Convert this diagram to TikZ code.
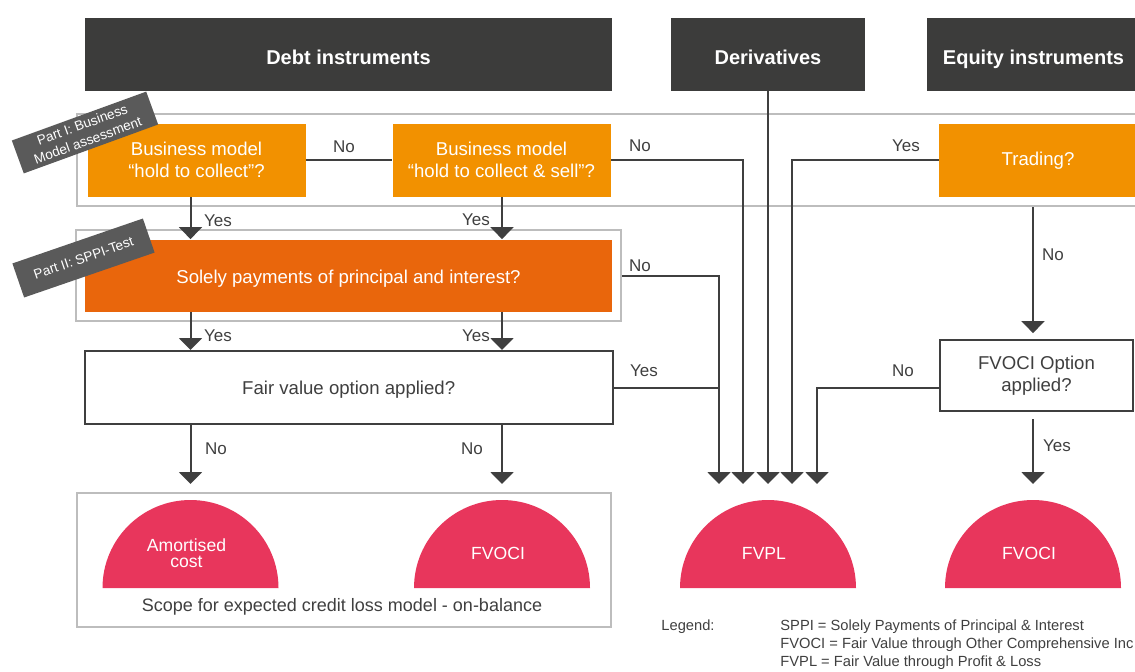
\documentclass[tikz,border=0pt]{standalone}
\usepackage{fontspec}
\setmainfont{Liberation Sans}
\usetikzlibrary{arrows.meta,fit}

\definecolor{hdrgray}{HTML}{3C3C3B}
\definecolor{bmorange}{HTML}{F29100}
\definecolor{sppiorange}{HTML}{E9660C}
\definecolor{respink}{HTML}{E8365C}
\definecolor{framegray}{HTML}{BDBDBD}
\definecolor{taggray}{HTML}{5A5A5A}
\definecolor{linegray}{HTML}{3F3F3F}

\tikzset{
    header/.style={fill=hdrgray, text=white, inner sep=0pt, minimum height=36.5pt,
        text height=9.7pt, text depth=0pt, font=\fontsize{10}{12}\selectfont\bfseries},
    bmbox/.style={fill=bmorange, text=white, inner sep=0pt, minimum height=36.5pt,
        align=center, font=\fontsize{9.3}{11}\selectfont},
    sppibox/.style={bmbox, fill=sppiorange},
    askbox/.style={draw=linegray, line width=1pt, fill=white, text=linegray, inner sep=0pt,
        align=center, font=\fontsize{9.3}{11}\selectfont},
    frame/.style={draw=framegray, line width=1pt, inner sep=0pt},
    tag/.style={fill=taggray, text=white, inner sep=0pt, align=center,
        font=\fontsize{6.8}{8.3}\selectfont},
    restxt/.style={text=white, inner sep=0pt, align=center,
        font=\fontsize{8.8}{8}\selectfont},
    lbl/.style={text=linegray, inner sep=0pt, font=\fontsize{8.5}{10}\selectfont},
    legtxt/.style={text=linegray, inner sep=0pt, font=\fontsize{7.35}{9}\selectfont},
    ln/.style={draw=linegray, line width=1pt},
    arr/.style={ln, -{Triangle[width=11.5pt, length=6pt]}},
}

\begin{document}
\begin{tikzpicture}[x=0.5pt, y=-0.5pt]

    % the page
    \useasboundingbox (0,0) rectangle (1135,671);
    \clip (0,0) rectangle (1135,671);

    % columns and arrow ends
    \coordinate (colA) at (190.5,0);
    \coordinate (colB) at (502,0);
    \coordinate (colE) at (1033,0);
    \coordinate (tiprow) at (0,484);
    \foreach \i/\x in {1/719,2/743,3/768,4/792,5/817} {
        \coordinate (tip\i) at (\x,484);
    }

    % headers
    \node[header, minimum width=263.5pt] (debt) at (348.5,54.5) {Debt instruments};
    \node[header, minimum width=97pt] (deriv) at (768,54.5) {Derivatives};
    \node[header, minimum width=106.5pt] (equity) at (1033.5,54.5) {Equity instruments};

    % part I
    \node[bmbox, minimum width=109pt] (hc) at (196.5,160.3) {Business model\\“hold to collect”?};
    \node[bmbox, minimum width=109pt] (hcs) at (501.5,160.3) {Business model\\“hold to collect \& sell”?};
    \node[bmbox, minimum width=99pt] (trading) at (1038,160.3) {Trading?};
    \node[frame, fit=(hc)(trading), inner xsep=5pt, inner ysep=4.5pt] (bmframe) {};

    % part II
    \node[sppibox, minimum width=263.5pt, minimum height=36pt, text height=8.2pt, text depth=0pt]
        (sppi) at (348.5,275.5) {Solely payments of principal and interest?};
    \node[frame, fit=(sppi), inner sep=4.5pt] (spframe) {};

    % options
    \node[askbox, minimum width=264pt, minimum height=36.5pt, text height=7.4pt, text depth=0pt]
        (fvo) at (348.7,387.5) {Fair value option applied?};
    \node[askbox, minimum width=96.5pt, minimum height=35.7pt] (fvocio) at (1036.5,375.3)
        {FVOCI Option\\applied?};

    % results
    \node[frame, minimum width=266.9pt, minimum height=66.6pt] (scope) at (344.2,559.9) {};
    \foreach \cx/\nm/\txt in {190.5/amort/{Amortised\\cost}, 502/fvocileft/FVOCI,
                              768/fvpl/FVPL, 1033/fvociright/FVOCI} {
        \fill[respink] (\cx,588) ++(-44pt,0) arc[start angle=180, end angle=0, radius=44pt] -- cycle;
        \node[restxt] (\nm) at (\cx-4,553) {\txt};
    }
    \node[text=linegray, inner sep=0pt, font=\fontsize{9}{10}\selectfont] (scopelbl) at (342,607)
        {Scope for expected credit loss model - on-balance};

    % debt flow
    \draw[ln] (hc.east) -- (hcs.west);
    \foreach \c/\b in {colA/hc, colB/hcs} {
        \draw[arr] (\b.south -| \c) -- (sppi.north -| \c);
        \draw[arr] (sppi.south -| \c) -- (fvo.north -| \c);
        \draw[arr] (fvo.south -| \c) -- (\c |- tiprow);
    }

    % into FVPL
    \draw[arr] (spframe.east) -| (tip1);
    \draw[ln] (fvo.east) -- (fvo.east -| tip1);
    \draw[arr] (hcs.east) -| (tip2);
    \draw[arr] (deriv.south) -- (tip3);
    \draw[arr] (trading.west) -| (tip4);
    \draw[arr] (fvocio.west |- fvo.east) -| (tip5);

    % equity flow
    \draw[arr] (bmframe.south -| colE) -- ([yshift=2.75pt]fvocio.north -| colE);
    \draw[arr] ([yshift=-3.5pt]fvocio.south -| colE) -- (colE |- tiprow);

    % labels
    \foreach \nm/\x/\y/\t in {bmno/344/147/No, hcsno/640/146/No, tryes/906/146/Yes,
            trno/1053/255/No, hcyes/218/221/Yes, hcsyes/476/220/Yes, sppino/640/266/No,
            sppiyesa/218/336/Yes, sppiyesb/476/336/Yes, fvoyes/644/371/Yes,
            fvonoa/216/449/No, fvonob/472/449/No, ocino/903/371/No, ociyes/1057/446/Yes} {
        \node[lbl] (\nm) at (\x,\y) {\t};
    }

    % legend
    \node[legtxt, anchor=west] (legend) at (661,627) {Legend:};
    \node[legtxt, anchor=west, align=left] (legitems) at (780,645)
        {SPPI = Solely Payments of Principal \& Interest\\
         FVOCI = Fair Value through Other Comprehensive Inc\\
         FVPL = Fair Value through Profit \& Loss};

    % tags
    \node[tag, rotate=20, minimum width=71.5pt, minimum height=17.5pt] (tagone) at (85,132.5)
        {Part I: Business\\Model assessment};
    \node[tag, rotate=19, minimum width=69pt, minimum height=18pt] (tagtwo) at (83.5,258)
        {Part II: SPPI-Test};

\end{tikzpicture}
\end{document}
